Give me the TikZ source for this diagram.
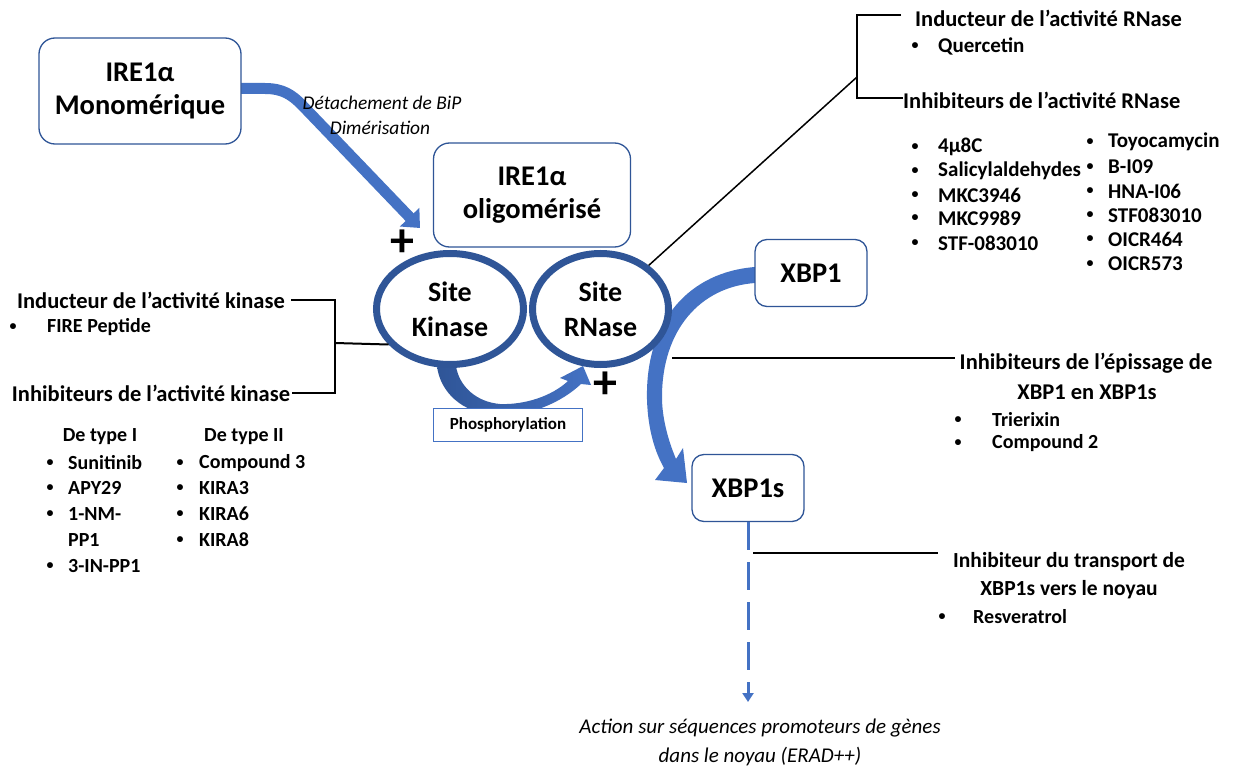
\documentclass[tikz,border=0pt]{standalone}
\usepackage{fontspec}
\setmainfont{Carlito}
\usetikzlibrary{arrows.meta,shapes.geometric,calc}
\definecolor{dkblue}{HTML}{2F5597}
\definecolor{mdblue}{HTML}{4472C4}
\pgfdeclarelayer{bg}
\pgfsetlayers{bg,main}
\begin{document}
\begin{tikzpicture}[x=1pt,y=-1pt,
  rbox/.style={draw=dkblue, line width=1.3pt, fill=white, rounded corners=16pt, align=center, font=\bfseries\fontsize{28.5}{33}\selectfont, inner sep=0},
  ell/.style={ellipse, draw=dkblue, line width=7pt, fill=white, align=center, font=\bfseries\fontsize{28}{35}\selectfont, inner sep=0},
  head/.style={font=\bfseries\fontsize{22.5}{26}\selectfont, inner sep=0},
  item/.style={font=\bfseries\fontsize{20}{23}\selectfont, inner sep=0, anchor=west},
  ritem/.style={item, font=\bfseries\fontsize{21}{24}\selectfont},
  bul/.style={font=\bfseries\fontsize{14}{16}\selectfont, inner sep=0},
  itl/.style={font=\itshape\fontsize{19.4}{25}\selectfont, align=center, inner sep=0},
  conn/.style={draw=black, line width=2pt},
  plus/.style={font=\bfseries\fontsize{48}{48}\selectfont, inner sep=0}
]
\useasboundingbox (0,0) rectangle (1236,767);

% main nodes
\node[rbox, minimum width=202, minimum height=106] (mono) at (140,91) {IRE1α\\Monomérique};
\node[rbox, minimum width=197, minimum height=104] (oligo) at (532,195) {IRE1α\\oligomérisé};
\node[ell, minimum width=147, minimum height=111] (kin) at (450,309) {Site\\Kinase};
\node[ell, minimum width=136, minimum height=111] (rna) at (600.5,309) {Site\\RNase};
\node[draw=mdblue, line width=1.3pt, fill=white, minimum width=149, minimum height=33, inner sep=0,
      font=\bfseries\fontsize{17}{19}\selectfont] (phos) at (508,425) {Phosphorylation};
\node[rbox, minimum width=112, minimum height=67, rounded corners=12pt] (xbp1) at (811,273) {XBP1};
\node[rbox, minimum width=112, minimum height=67, rounded corners=12pt] (xbp1s) at (748,488) {XBP1s};

\node[plus] (p1) at (402,243) {+};
\node[plus] (p2) at (605,385) {+};

\node[itl] (bip1) at (382,103) {Détachement de BiP};
\node[itl] (bip2) at (380,128) {Dimérisation};
\node[itl, font=\itshape\fontsize{21}{29}\selectfont] (act) at (760,742) {Action sur séquences promoteurs de gènes\\dans le noyau (ERAD++)};

% arrows (background)
\coordinate (tipM) at (420,228);
\coordinate (tipA) at (748,702);
\begin{pgfonlayer}{bg}
\fill[white] (0,0) rectangle (1236,767);
\draw[mdblue, line width=11pt, -{Triangle[length=15pt,width=26pt]}]
  ($(mono.east)+(-2,-2.5)$) -- (265,88.5) .. controls (283,88.5) and (292,95) .. (302,105) -- (tipM);
\shade[left color=dkblue, right color=mdblue]
  (437,366) .. controls (440,392) and (462,413) .. (495,415) .. controls (530,417) and (562,402) .. (581,384)
  -- (591,385) -- (583,366) -- (560,378) -- (568,381)
  .. controls (552,396) and (525,405) .. (500,404) .. controls (476,402) and (459,386) .. (456,366) -- cycle;
\fill[mdblue]
  (755,267) .. controls (690,272) and (645,320) .. (647,400) .. controls (648,430) and (655,452) .. (664,468)
  -- (655,480) -- (687,483) -- (683,448) -- (676,459)
  .. controls (668,440) and (662,418) .. (662,397) .. controls (662,330) and (700,287) .. (755,283) -- cycle;
\end{pgfonlayer}
\draw[mdblue, line width=3pt, dash pattern=on 28pt off 12pt, -{Triangle[length=9pt,width=11pt]}] (xbp1s.south) -- (tipA);

% RNase annotations
\node[head, anchor=west] (indR) at (915,18) {Inducteur de l’activité RNase};
\node[bul] (bq) at (915,46) {•};
\node[ritem] (quer) at (938,46) {Quercetin};
\node[head, anchor=west] (inhR) at (903,100) {Inhibiteurs de l’activité RNase};
\foreach \t/\y [count=\i] in {4µ8C/147, Salicylaldehydes/171, MKC3946/195, MKC9989/218, STF-083010/243} {
  \node[bul] (ra\i) at (915,\y) {•};
  \node[ritem] (rt\i) at (938,\y) {\t};
}
\foreach \t/\y [count=\i] in {Toyocamycin/142, B-I09/167, HNA-I06/191, STF083010/215, OICR464/239, OICR573/264} {
  \node[bul] (rb\i) at (1090,\y) {•};
  \node[ritem] (ru\i) at (1108,\y) {\t};
}
\coordinate (brT) at (857,15);
\coordinate (brM) at (857,77);
\coordinate (brB) at (857,98);
\draw[conn] ($(indR.west)+(-14,-3)$) -- (brT) -- (brB) -- ($(inhR.west)+(0,-2)$);
\draw[conn, line width=1.5pt] (brM) -- (rna);

% kinase annotations
\node[head] (indK) at (151,300) {Inducteur de l’activité kinase};
\node[bul] (bf) at (13,327) {•};
\node[item] (fire) at (47,327) {FIRE Peptide};
\node[head] (inhK) at (151,393) {Inhibiteurs de l’activité kinase};
\node[item, anchor=center] (t1) at (100,437) {De type I};
\node[item, anchor=center] (t2) at (244,437) {De type II};
\foreach \t/\y [count=\i] in {Sunitinib/463, APY29/488, 1-NM-/514, 3-IN-PP1/566} {
  \node[bul] (ka\i) at (50,\y) {•};
  \node[item] (kt\i) at (68,\y) {\t};
}
\node[item] (kpp) at (68,540) {PP1};
\foreach \t/\y [count=\i] in {Compound 3/463, KIRA3/488, KIRA6/514, KIRA8/540} {
  \node[bul] (kb\i) at (180,\y) {•};
  \node[item] (ku\i) at (199,\y) {\t};
}
\coordinate (bkT) at (335,300);
\coordinate (bkM) at (335,343);
\coordinate (bkB) at (335,393);
\draw[conn] ($(indK.east)+(6,0)$) -- (bkT) -- (bkB) -- ($(inhK.east)+(2,0)$);
\draw[conn] (bkM) -- (kin.210);

% splicing inhibitors
\node[head] (ep1) at (1086,363) {Inhibiteurs de l’épissage de};
\node[head] (ep2) at (1087,392) {XBP1 en XBP1s};
\node[bul] (eb1) at (958,420) {•};
\node[item] (et1) at (992,420) {Trierixin};
\node[bul] (eb2) at (958,443) {•};
\node[item] (et2) at (992,443) {Compound 2};
\coordinate (epL) at (672,358);
\coordinate (epR) at (955,358);
\draw[conn] (epL) -- (epR);

% transport inhibitor
\node[head, font=\bfseries\fontsize{21.5}{25}\selectfont] (tr1) at (1069,562) {Inhibiteur du transport de};
\node[head, font=\bfseries\fontsize{21.5}{25}\selectfont] (tr2) at (1069,590) {XBP1s vers le noyau};
\node[bul] (tb1) at (942,617) {•};
\node[item] (tt1) at (973,617) {Resveratrol};
\coordinate (trL) at (753,553);
\coordinate (trR) at (938,553);
\draw[conn] (trL) -- (trR);
\end{tikzpicture}
\end{document}
